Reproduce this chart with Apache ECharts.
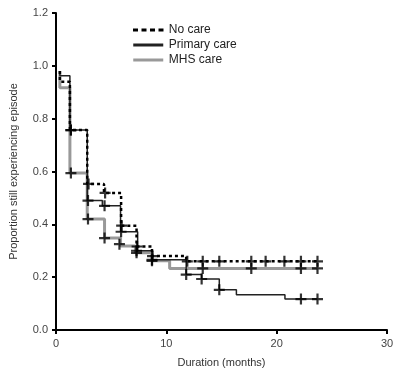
<!DOCTYPE html>
<html>
<head>
<meta charset="utf-8">
<script src="https://cdn.jsdelivr.net/npm/echarts@6/dist/echarts.min.js"></script>
<style>
html,body{margin:0;padding:0;background:#fff;}
#chart{width:400px;height:373px;}
</style>
</head>
<body>
<div id="chart"></div>
<script>
// Kaplan-Meier step data: [month, proportion]
const noCareSteps = [[0.35,0.98],[0.35,0.94],[1.26,0.757],[2.83,0.553],[4.35,0.519],[5.9,0.395],[7.3,0.316],[8.7,0.28],[11.8,0.26],[23.7,0.26]];
const primarySteps = [[0.35,0.98],[0.35,0.962],[1.26,0.757],[2.83,0.49],[4.2,0.47],[5.85,0.372],[7.4,0.30],[8.7,0.266],[11.8,0.21],[13.2,0.193],[14.8,0.152],[16.35,0.133],[20.75,0.117],[23.7,0.117]];
const mhsSteps = [[0.35,0.98],[0.35,0.917],[1.26,0.594],[2.83,0.42],[4.4,0.348],[5.85,0.318],[7.2,0.292],[8.7,0.262],[10.3,0.233],[23.7,0.233]];

// Censored observations
const noCareCensor = [[1.35,0.757],[2.95,0.553],[4.45,0.519],[5.95,0.395],[7.35,0.316],[8.75,0.28],[11.9,0.26],[13.3,0.26],[14.8,0.26],[17.7,0.26],[19.0,0.26],[20.7,0.26],[22.2,0.26],[23.7,0.26]];
const primaryCensor = [[1.35,0.757],[2.9,0.49],[4.4,0.47],[5.9,0.372],[7.3,0.30],[8.7,0.266],[11.8,0.21],[13.2,0.193],[14.8,0.152],[22.2,0.117],[23.7,0.117]];
const mhsCensor = [[1.35,0.594],[2.9,0.42],[4.4,0.348],[5.75,0.325],[7.3,0.292],[8.7,0.262],[13.3,0.233],[17.7,0.233],[22.2,0.233],[23.7,0.233]];

const seriesNames = ['No care', 'Primary care', 'MHS care'];
const xAxisTitle = 'Duration (months)';
const yAxisTitle = 'Proportion still experiencing episode';

const font = 'Liberation Sans, Arial, sans-serif';
const plus = 'path://M-1,-5H1V-1H5V1H1V5H-1V1H-5V-1H-1Z';
const dashIcon = 'path://M0,0H5V3H0ZM8.5,0H13.5V3H8.5ZM17,0H22V3H17ZM25.5,0H30.5V3H25.5Z';
const barIcon = 'path://M0,0H30V3H0Z';

function censorSeries(data) {
  return {
    type: 'scatter', data: data, symbol: plus, symbolSize: 11,
    itemStyle: {color: '#000'}, z: 10, silent: true, legendHoverLink: false
  };
}

const chart = echarts.init(document.getElementById('chart'));
chart.setOption({
  animation: false,
  backgroundColor: '#fff',
  grid: {left: 53, right: 13, top: 13, bottom: 41},
  legend: {
    data: [
      {name: seriesNames[0], icon: dashIcon},
      {name: seriesNames[1], icon: barIcon},
      {name: seriesNames[2], icon: barIcon}
    ],
    orient: 'vertical', left: 128, top: 19,
    itemWidth: 31, itemHeight: 3, itemGap: 3,
    textStyle: {fontFamily: font, fontSize: 12, color: '#222'}
  },
  xAxis: {
    type: 'value', min: 0, max: 30, interval: 10,
    name: xAxisTitle, nameLocation: 'middle', nameGap: 27,
    nameTextStyle: {fontFamily: font, fontSize: 11, color: '#333'},
    axisLine: {show: true, lineStyle: {color: '#000', width: 2}},
    axisTick: {show: true, length: 4, lineStyle: {color: '#000', width: 2}},
    axisLabel: {fontFamily: font, fontSize: 11, color: '#444', margin: 8},
    splitLine: {show: false}
  },
  yAxis: {
    type: 'value', min: 0, max: 1.2, interval: 0.2,
    name: yAxisTitle, nameLocation: 'middle', nameGap: 37,
    nameTextStyle: {fontFamily: font, fontSize: 11, color: '#333'},
    axisLine: {show: true, lineStyle: {color: '#000', width: 2}},
    axisTick: {show: true, length: 4, lineStyle: {color: '#000', width: 2}},
    axisLabel: {fontFamily: font, fontSize: 11, color: '#444', margin: 8,
      formatter: v => v.toFixed(1)},
    splitLine: {show: false}
  },
  series: [
    {name: seriesNames[0], type: 'line', step: 'end', data: noCareSteps, symbol: 'none',
     lineStyle: {color: '#000', width: 2.5, type: [3, 3]}, itemStyle: {color: '#000'}, z: 4},
    {name: seriesNames[1], type: 'line', step: 'end', data: primarySteps, symbol: 'none',
     lineStyle: {color: '#222', width: 1.5}, itemStyle: {color: '#222'}, z: 3},
    {name: seriesNames[2], type: 'line', step: 'end', data: mhsSteps, symbol: 'none',
     lineStyle: {color: '#999', width: 3}, itemStyle: {color: '#999'}, z: 2},
    censorSeries(noCareCensor),
    censorSeries(primaryCensor),
    censorSeries(mhsCensor)
  ]
});
</script>
</body>
</html>
